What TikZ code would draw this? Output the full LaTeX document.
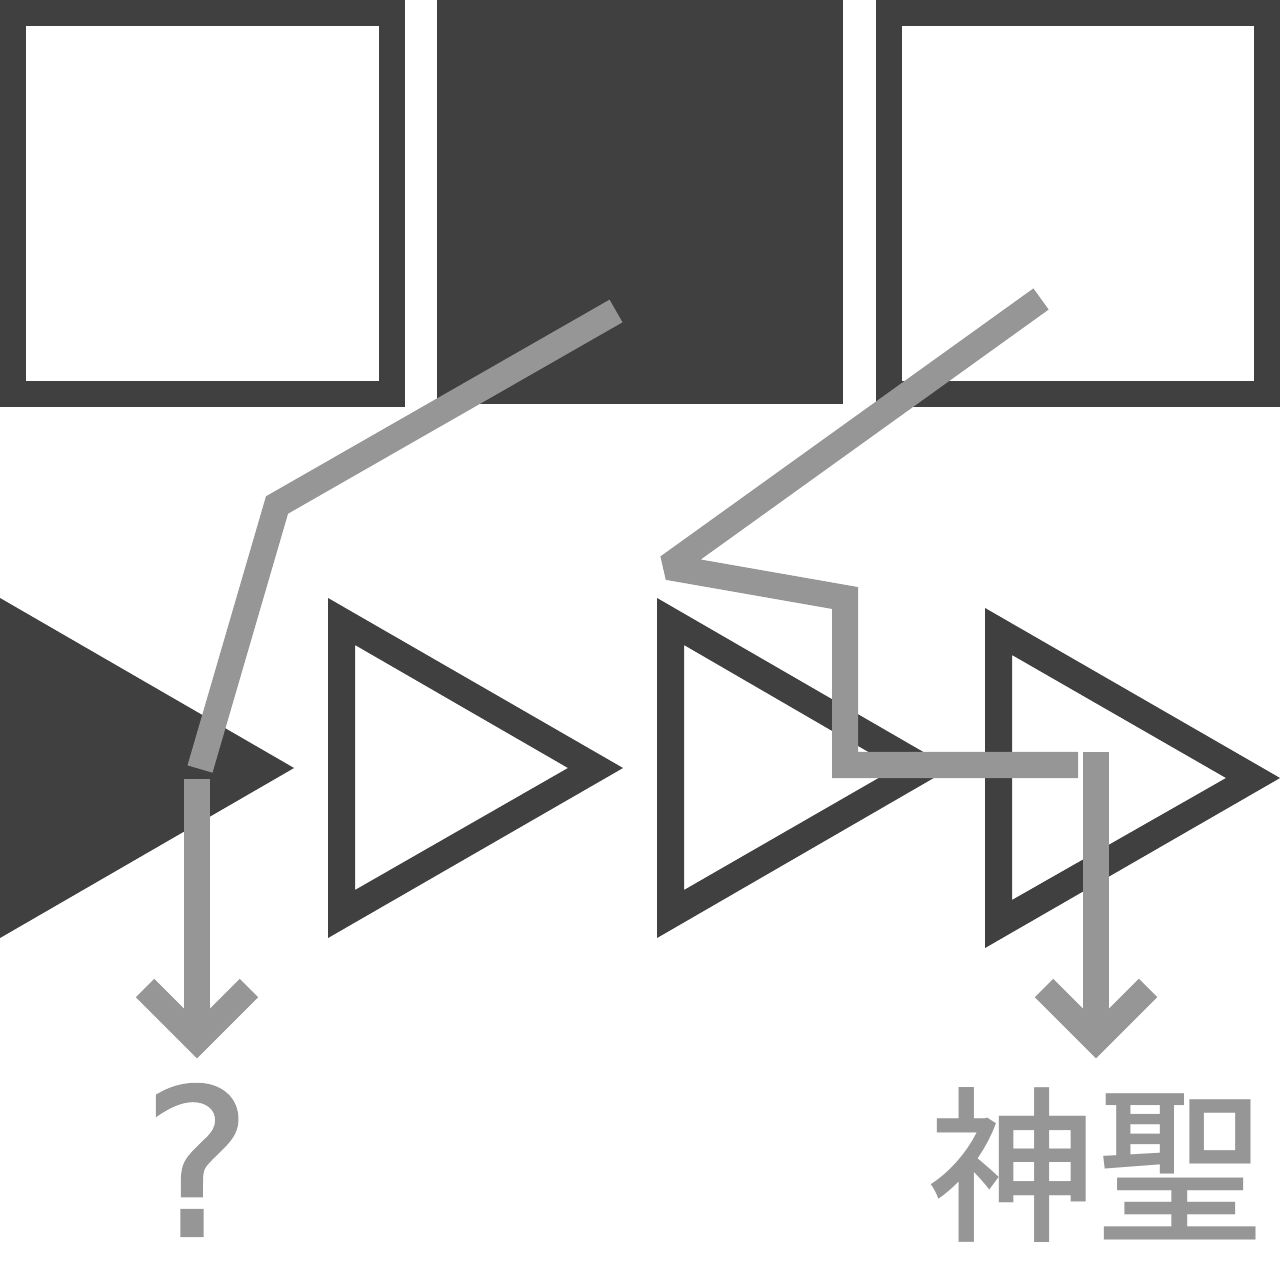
\documentclass[tikz,border=0pt]{standalone}
\usepackage{fontspec}
\newfontfamily\cjkfont{Noto Sans CJK JP Medium}
\newfontfamily\markfont[FakeBold=1.5]{DejaVu Sans}
\definecolor{darkgrey}{HTML}{404040}
\definecolor{lightgrey}{HTML}{969696}
\tikzset{
	frame/.style={draw=darkgrey, line width=2.6mm},
	solid block/.style={fill=darkgrey},
	path line/.style={draw=lightgrey, line width=2.6mm, line join=miter, miter limit=2},
	answer/.style={text=lightgrey, inner sep=0pt},
}

\begin{document}
\begin{tikzpicture}[x=0.01cm, y=-0.01cm]
		\useasboundingbox (0, 0) rectangle (1280, 1280);

		% top row
		\draw[frame] (13, 13) rectangle (392, 394);
		\fill[solid block] (437, 0) rectangle (843, 404);
		\draw[frame] (889, 13) rectangle (1267, 394);

		% bottom row
		\fill[solid block] (0, 598) -- (294, 768) -- (0, 938) -- cycle;
		\fill[solid block, even odd rule] (328, 598) -- (623, 768) -- (328, 938) -- cycle
			(355, 645) -- (568, 768) -- (355, 890) -- cycle;
		\fill[solid block, even odd rule] (657, 598) -- (951, 768) -- (657, 938) -- cycle
			(684, 645) -- (896, 768) -- (684, 890) -- cycle;
		\fill[solid block, even odd rule] (985, 608) -- (1280, 778) -- (985, 948) -- cycle
			(1012, 655) -- (1226, 778) -- (1012, 900) -- cycle;

		% first path
		\coordinate (A0) at (616, 311);
		\coordinate (A1) at (277, 505);
		\coordinate (A2) at (200, 769);
		\coordinate (A3) at (197, 779);
		\coordinate (A4) at (197, 1040);
		\coordinate (A5) at (145, 988);
		\coordinate (A6) at (249, 988);

		% second path
		\coordinate (B0) at (1041, 299);
		\coordinate (B1) at (668, 567);
		\coordinate (B2) at (845, 598);
		\coordinate (B3) at (845, 765);
		\coordinate (B4) at (1078, 765);
		\coordinate (B5) at (1096, 752);
		\coordinate (B6) at (1096, 1040);
		\coordinate (B7) at (1044, 988);
		\coordinate (B8) at (1148, 988);

		\draw[path line] (A0) -- (A1) -- (A2);
		\draw[path line] (A3) -- (A4);
		\draw[path line] (A5) -- (A4) -- (A6);

		\draw[path line] (B0) -- (B1) -- (B2) -- (B3) -- (B4);
		\draw[path line] (B5) -- (B6);
		\draw[path line] (B7) -- (B6) -- (B8);

		\node[answer, font=\markfont\fontsize{58}{58}\selectfont] (Q) at (197, 1160) {?};
		\node[answer, font=\cjkfont\fontsize{47.5}{47.5}\selectfont] (S) at (1096, 1165) {神聖};
	\end{tikzpicture}
\end{document}
